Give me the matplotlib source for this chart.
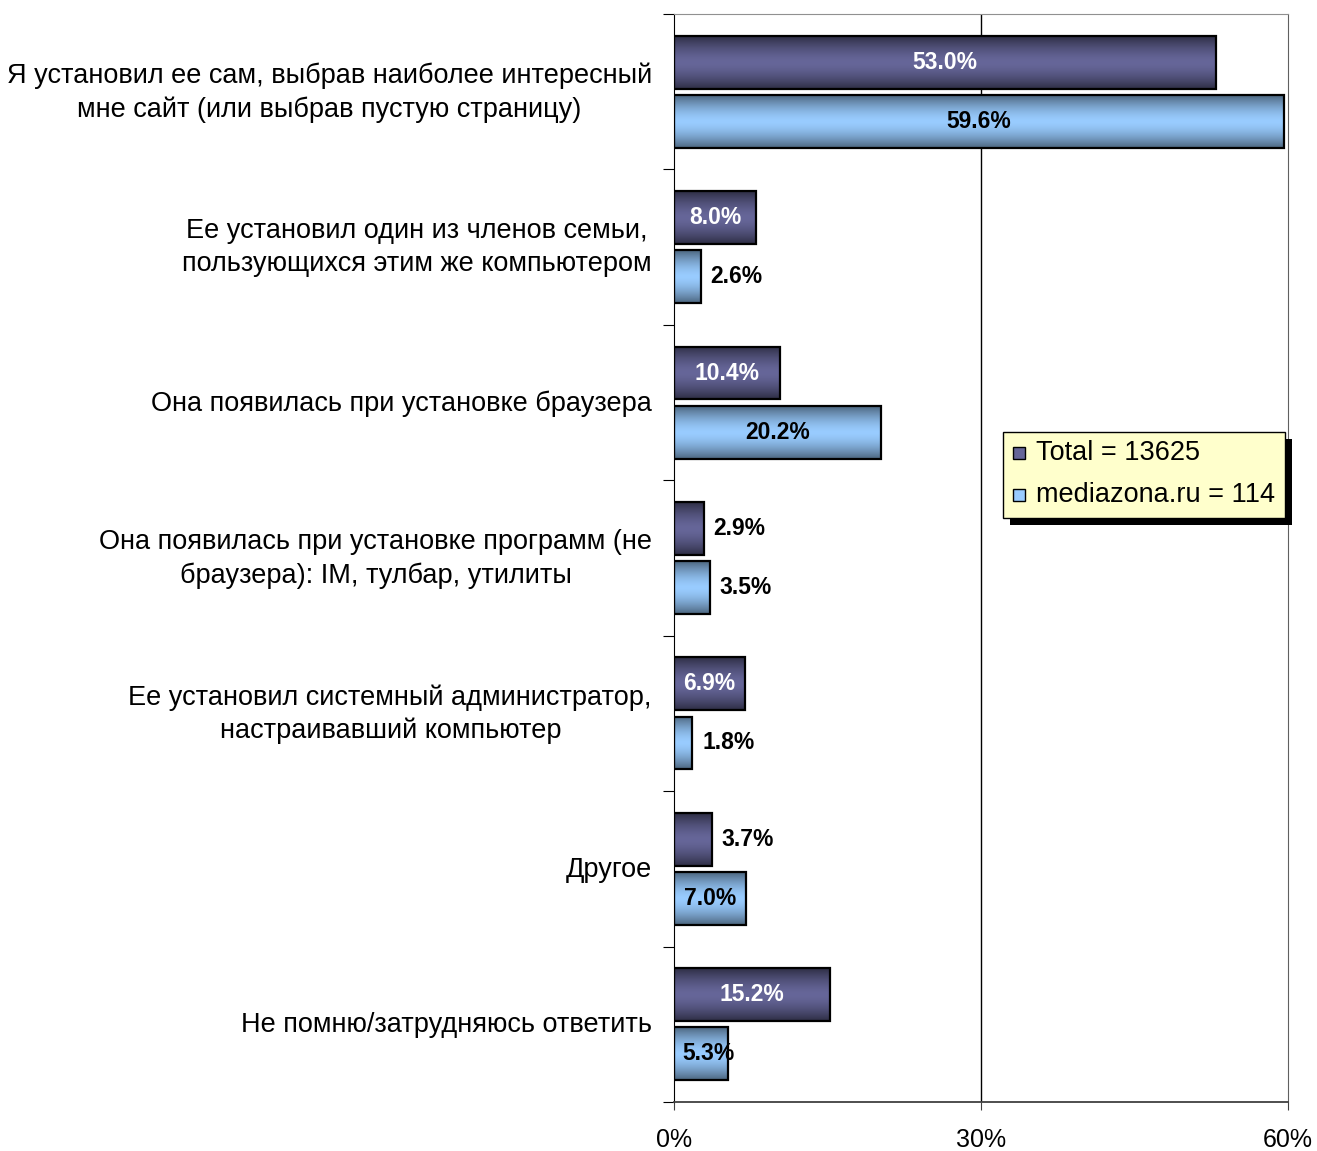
import numpy as np
import matplotlib.pyplot as plt
from matplotlib.patches import Rectangle

plt.rcParams['font.family'] = ['Liberation Sans', 'DejaVu Sans']

categories = [
    'Я установил ее сам, выбрав наиболее интересный\nмне сайт (или выбрав пустую страницу)',
    'Ее установил один из членов семьи,\nпользующихся этим же компьютером',
    'Она появилась при установке браузера',
    'Она появилась при установке программ (не\nбраузера): IM, тулбар, утилиты',
    'Ее установил системный администратор,\nнастраивавший компьютер',
    'Другое',
    'Не помню/затрудняюсь ответить',
]
total = [53.0, 8.0, 10.4, 2.9, 6.9, 3.7, 15.2]
mediazona = [59.6, 2.6, 20.2, 3.5, 1.8, 7.0, 5.3]
series_names = ['Total = 13625', 'mediazona.ru = 114']
xticks = [0, 30, 60]

W, H = 1317, 1151
fig = plt.figure(figsize=(W / 100, H / 100), dpi=100)
ax = fig.add_axes([674 / W, 1 - 1102 / H, (1288 - 674) / W, (1102 - 14) / H])


def gradient(mid, edge_factor, n=80):
    mid = np.array(mid) / 255.0
    edge = mid * edge_factor
    t = np.abs(np.linspace(-1, 1, n)) ** 1.6
    return (mid[None, :] * (1 - t[:, None]) + edge[None, :] * t[:, None])[:, None, :]


series = [
    (total, -0.19, (102, 102, 153), 0.45, 'white'),
    (mediazona, 0.19, (153, 204, 255), 0.5, 'black'),
]
bar_h = 0.34

for values, off, mid, ef, inside_color in series:
    img = gradient(mid, ef)
    for i, v in enumerate(values):
        y0, y1 = i + off - bar_h / 2, i + off + bar_h / 2
        ax.imshow(img, extent=(0, v, y1, y0), aspect='auto', zorder=2,
                  interpolation='bilinear')
        ax.barh(i + off, v, height=bar_h, facecolor='none',
                edgecolor='black', linewidth=1.6, zorder=3)
        label = f'{v:.1f}%'
        if v >= 5:
            ax.text(max(v / 2, 3.4), i + off, label, ha='center', va='center',
                    fontsize=16.5, fontweight='bold', color=inside_color, zorder=4)
        else:
            ax.text(v + 0.95, i + off, label, ha='left', va='center',
                    fontsize=16.5, fontweight='bold', color='black', zorder=4)

ax.set_xlim(0, 60)
ax.set_ylim(len(categories) - 0.5, -0.5)

# gridlines and frame
ax.axvline(30, color='black', linewidth=1, zorder=1)
ax.spines['left'].set_color('black')
ax.spines['right'].set_color('#606060')
ax.spines['top'].set_color('#909090')
ax.spines['bottom'].set_color('#404040')
ax.spines['bottom'].set_linewidth(1.3)

ax.set_xticks(xticks)
ax.set_xticklabels([f'{t}%' for t in xticks], fontsize=18)
ax.tick_params(axis='x', direction='out', length=6, pad=13, color='#404040')
ax.set_yticks(np.arange(-0.5, len(categories), 1.0))
ax.set_yticklabels([])
ax.tick_params(axis='y', direction='out', length=8, color='black')

for i, cat in enumerate(categories):
    ax.text(-22 / 614 * 60, i + 0.005, cat, ha='right', va='center',
            multialignment='center', fontsize=19.5, linespacing=1.35,
            transform=ax.transData, clip_on=False)

# legend box with solid shadow
def fx(px):
    return px / W


def fy(py):
    return 1 - py / H


fig.patches.append(Rectangle((fx(1010), fy(525)), fx(1292) - fx(1010), fy(439) - fy(525),
                             transform=fig.transFigure, facecolor='black',
                             edgecolor='none', zorder=5))
fig.patches.append(Rectangle((fx(1003), fy(518)), fx(1285) - fx(1003), fy(432) - fy(518),
                             transform=fig.transFigure, facecolor='#ffffcc',
                             edgecolor='black', linewidth=1, zorder=6))
for (values, off, mid, ef, _), name, py in zip(series, series_names, [453, 495]):
    fig.patches.append(Rectangle((fx(1013), fy(py + 6)), fx(12), fy(py - 6) - fy(py + 6),
                                 transform=fig.transFigure,
                                 facecolor=np.array(mid) / 255.0,
                                 edgecolor='black', linewidth=1, zorder=7))
    fig.text(fx(1036), fy(py), name, ha='left', va='center', fontsize=19.5, zorder=8)

fig.savefig('out.png', dpi=100)
